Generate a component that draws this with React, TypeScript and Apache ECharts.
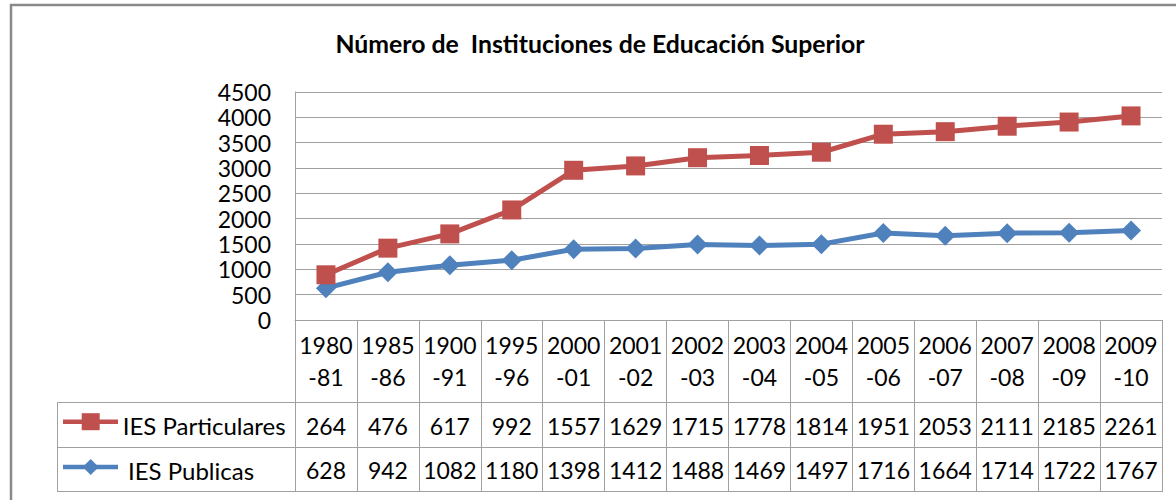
import React, { useEffect, useRef } from "react";
import * as echarts from "echarts";

const titleText = "Número de  Instituciones de Educación Superior";
const categories = [
  "1980-81", "1985-86", "1900-91", "1995-96", "2000-01", "2001-02", "2002-03",
  "2003-04", "2004-05", "2005-06", "2006-07", "2007-08", "2008-09", "2009-10",
];
const particulares = [264, 476, 617, 992, 1557, 1629, 1715, 1778, 1814, 1951, 2053, 2111, 2185, 2261];
const publicas = [628, 942, 1082, 1180, 1398, 1412, 1488, 1469, 1497, 1716, 1664, 1714, 1722, 1767];
const seriesNames = ["IES Particulares", "IES Publicas"];
const yMin = 0;
const yMax = 4500;
const yStep = 500;

const RED = "#c0504d";
const BLUE = "#4f81bd";
const GRID = "#a0a0a0";
const FONT = "Lato";

export default function App() {
  const ref = useRef<HTMLDivElement>(null);

  useEffect(() => {
    if (!ref.current) return;
    const chart = echarts.init(ref.current, null, { renderer: "svg" });
    chart.setOption({
      animation: false,
      backgroundColor: "#ffffff",
      grid: { left: 295, right: 14, top: 92, bottom: 180, containLabel: false },
      xAxis: {
        type: "category",
        data: categories,
        boundaryGap: true,
        axisLine: { show: true, lineStyle: { color: GRID, width: 1 } },
        axisTick: { show: true, length: 172, lineStyle: { color: GRID, width: 1 } },
        axisLabel: {
          interval: 0,
          margin: 9,
          fontFamily: FONT,
          fontSize: 23,
          lineHeight: 31.7,
          color: "#000",
          formatter: (v: string) => v.replace("-", "\n-"),
        },
        splitLine: { show: false },
      },
      yAxis: {
        type: "value",
        min: yMin,
        max: yMax,
        interval: yStep,
        axisLine: { show: true, lineStyle: { color: GRID, width: 1 } },
        axisTick: { show: false },
        axisLabel: {
          margin: 24,
          fontFamily: FONT,
          fontSize: 23,
          color: "#000",
          formatter: (v: number) => String(v),
        },
        splitLine: { show: true, lineStyle: { color: GRID, width: 1 } },
      },
      series: [
        {
          name: seriesNames[1],
          type: "line",
          stack: "total",
          data: publicas,
          symbol: "diamond",
          symbolSize: 20,
          lineStyle: { color: BLUE, width: 5 },
          itemStyle: { color: BLUE },
          z: 2,
        },
        {
          name: seriesNames[0],
          type: "line",
          stack: "total",
          data: particulares,
          symbol: "rect",
          symbolSize: 19,
          lineStyle: { color: RED, width: 5 },
          itemStyle: { color: RED },
          z: 3,
        },
      ],
    });

    const xs = categories.map((_, i) => chart.convertToPixel({ xAxisIndex: 0 }, i) as number);
    const band = xs.length > 1 ? xs[1] - xs[0] : 60;
    const tableLeft = 57;
    const tableRight = xs[xs.length - 1] + band / 2;
    const rowTop = 402.5;
    const rowMid = 447.5;
    const rowBottom = 491.5;
    const r1y = (rowTop + rowMid) / 2 + 0.5;
    const r2y = (rowMid + rowBottom) / 2 + 0.5;

    const graphics: any[] = [
      {
        type: "rect",
        shape: { x: 11, y: 5, width: 1200, height: 600 },
        style: { fill: "none", stroke: "#8a8a8a", lineWidth: 2.5 },
        silent: true,
      },
      {
        type: "text",
        x: 600,
        y: 43.5,
        style: {
          text: titleText,
          textAlign: "center",
          textVerticalAlign: "middle",
          fontFamily: FONT,
          fontWeight: "bold",
          fontSize: 24.8,
          fill: "#000",
        },
      },
    ];
    [rowTop, rowMid, rowBottom].forEach((y) => {
      graphics.push({
        type: "line",
        shape: { x1: tableLeft, y1: y, x2: tableRight, y2: y },
        style: { stroke: GRID, lineWidth: 1 },
      });
    });
    graphics.push({
      type: "line",
      shape: { x1: tableLeft + 0.5, y1: rowTop, x2: tableLeft + 0.5, y2: rowBottom },
      style: { stroke: GRID, lineWidth: 1 },
    });
    // legend keys
    graphics.push(
      { type: "line", shape: { x1: 63, y1: 421.7, x2: 118, y2: 421.7 }, style: { stroke: RED, lineWidth: 4.5 } },
      { type: "rect", shape: { x: 81.7, y: 413.2, width: 18, height: 17 }, style: { fill: RED } },
      { type: "line", shape: { x1: 63, y1: 467, x2: 118, y2: 467 }, style: { stroke: BLUE, lineWidth: 4.5 } },
      {
        type: "polygon",
        shape: { points: [[90.7, 459], [98.7, 467], [90.7, 475], [82.7, 467]] },
        style: { fill: BLUE },
      },
      {
        type: "text",
        x: 122.7,
        y: r1y,
        style: { text: seriesNames[0], textAlign: "left", textVerticalAlign: "middle", fontFamily: FONT, fontSize: 24, fill: "#000" },
      },
      {
        type: "text",
        x: 128,
        y: r2y,
        style: { text: seriesNames[1], textAlign: "left", textVerticalAlign: "middle", fontFamily: FONT, fontSize: 24, fill: "#000" },
      }
    );
    xs.forEach((x, i) => {
      graphics.push(
        {
          type: "text",
          x,
          y: r1y,
          style: { text: String(particulares[i]), textAlign: "center", textVerticalAlign: "middle", fontFamily: FONT, fontSize: 23, fill: "#000" },
        },
        {
          type: "text",
          x,
          y: r2y,
          style: { text: String(publicas[i]), textAlign: "center", textVerticalAlign: "middle", fontFamily: FONT, fontSize: 23, fill: "#000" },
        }
      );
    });
    chart.setOption({ graphic: graphics });

    return () => chart.dispose();
  }, []);

  return (
    <div
      ref={ref}
      style={{ position: "fixed", left: 0, top: 0, width: 1176, height: 500, background: "#fff" }}
    />
  );
}
